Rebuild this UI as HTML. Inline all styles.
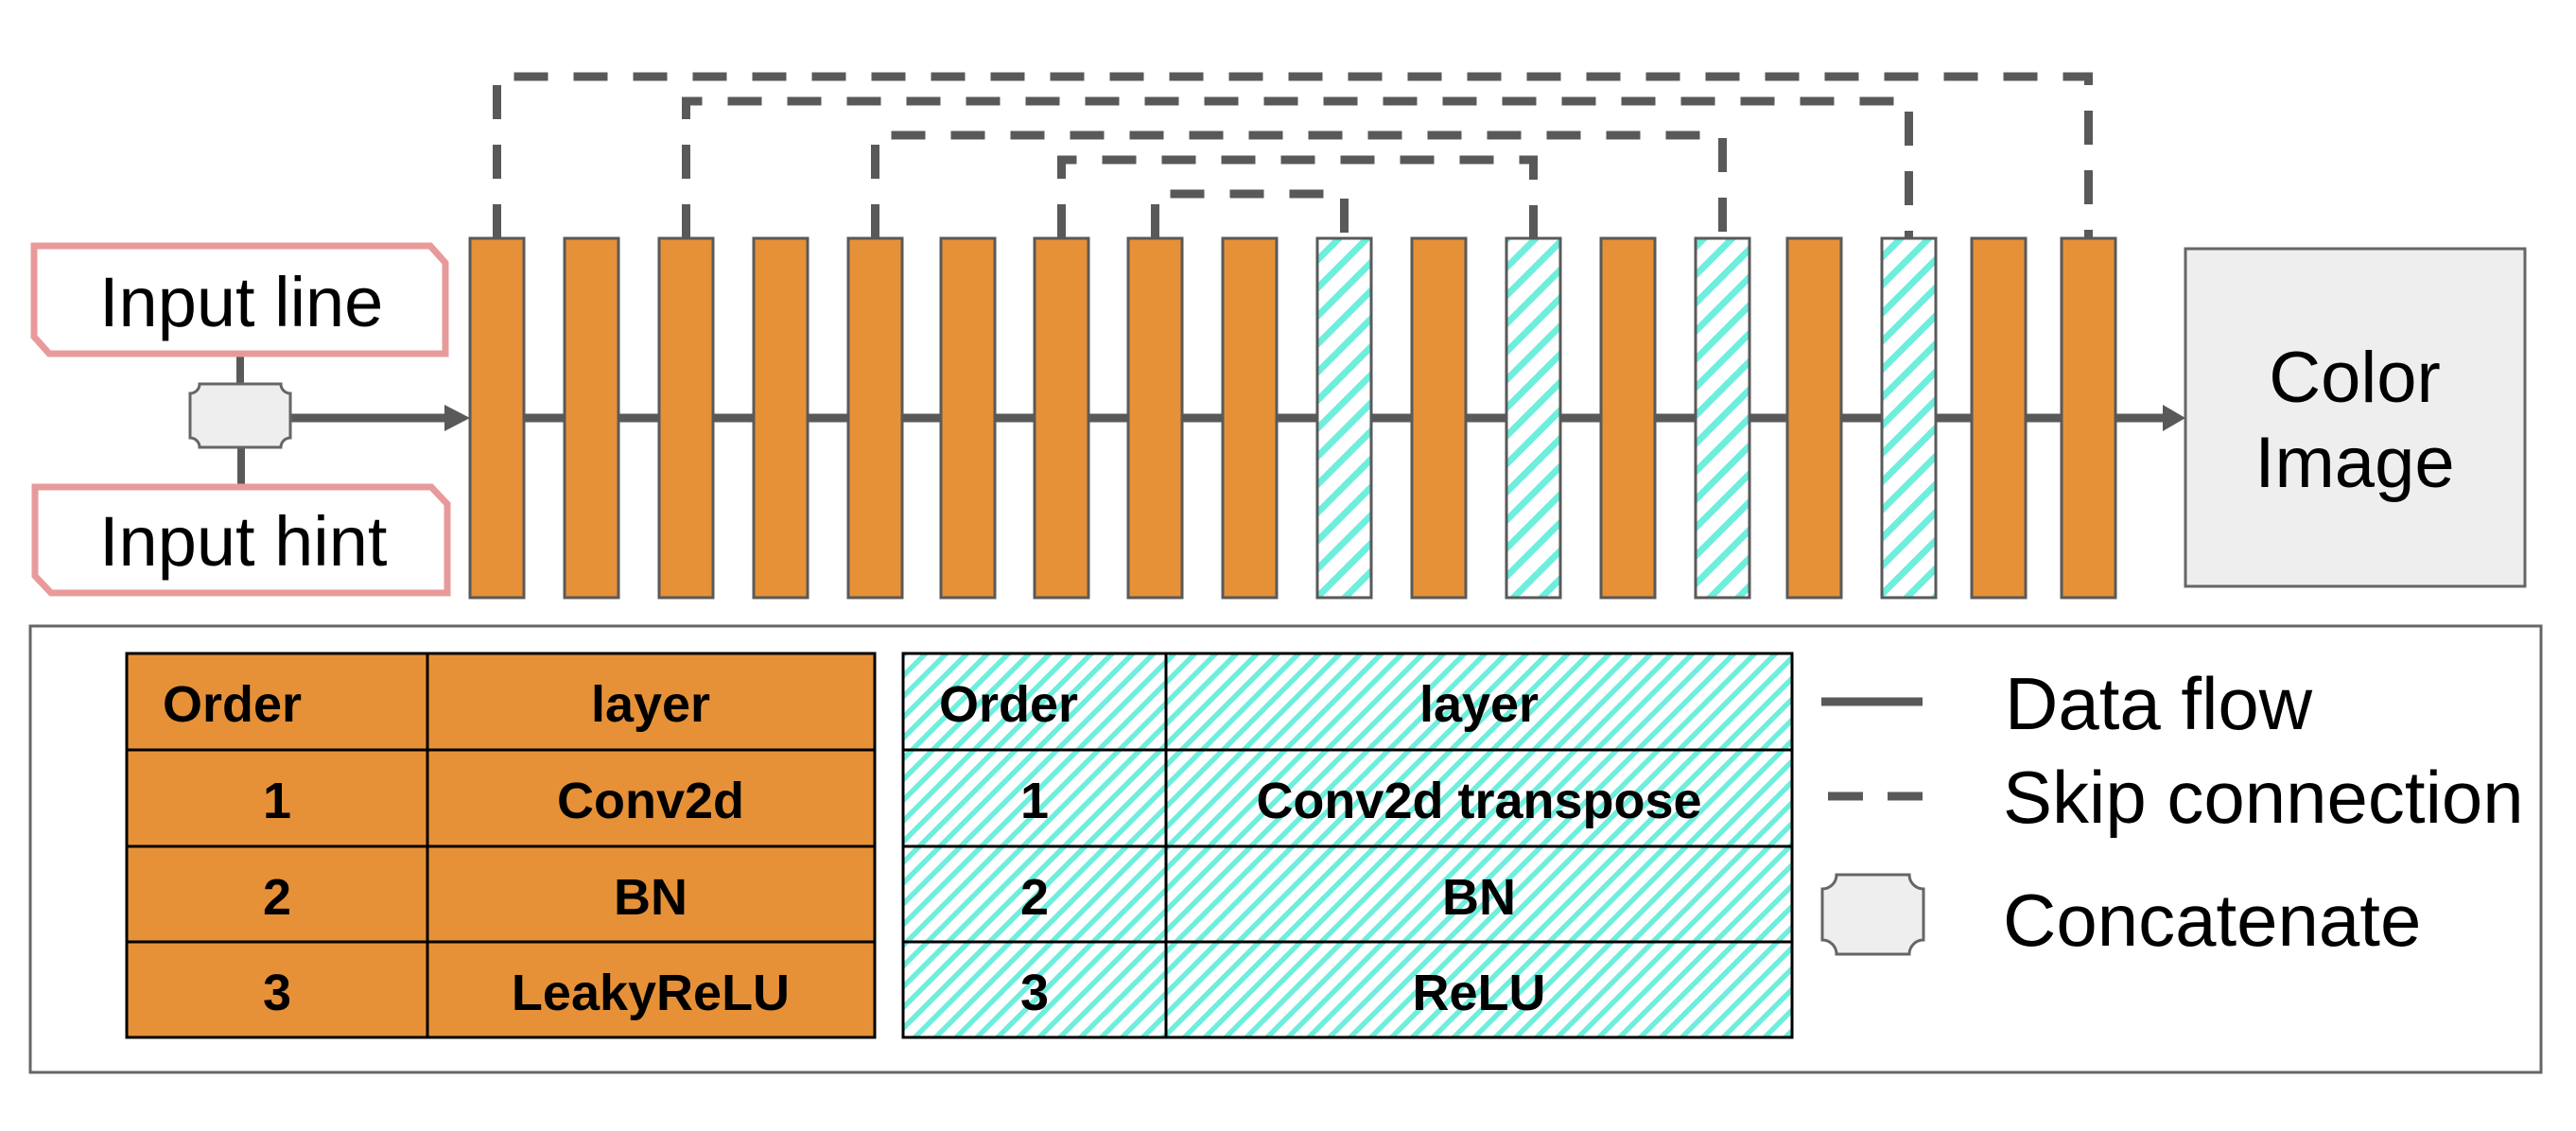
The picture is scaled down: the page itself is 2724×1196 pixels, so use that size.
<!DOCTYPE html>
<html><head><meta charset="utf-8"><style>
html,body{margin:0;padding:0;background:#fff;}
svg{display:block;}
text{font-family:"Liberation Sans",Arial,sans-serif;fill:#000;}
.b{font-weight:bold;font-size:54px;}
.r{font-size:78px;}
</style></head><body>
<svg width="2724" height="1196" viewBox="0 0 2724 1196" xmlns="http://www.w3.org/2000/svg">
<defs>
<pattern id="hb" width="21" height="21" patternUnits="userSpaceOnUse" patternTransform="rotate(45)">
<rect width="21" height="21" fill="#fff"/><rect width="7" height="21" fill="#6EEEDC"/></pattern>
<pattern id="ht" width="15.5" height="15.5" patternUnits="userSpaceOnUse" patternTransform="rotate(45)">
<rect width="15.5" height="15.5" fill="#fff"/><rect width="5.5" height="15.5" fill="#6EEEDC"/></pattern>
</defs>

<g fill="none" stroke="#595959" stroke-width="9" stroke-dasharray="36 27">
<path d="M525.5 252 V81 H2208.5 V252"/>
<path d="M725.5 252 V107 H2018.5 V252"/>
<path d="M925.5 252 V143 H1821.5 V252"/>
<path d="M1122.5 252 V169 H1621.5 V252"/>
<path d="M1221.5 252 V205 H1421.5 V252"/>
</g>

<line x1="554" y1="442" x2="2180" y2="442" stroke="#595959" stroke-width="9"/>
<line x1="307" y1="442" x2="472" y2="442" stroke="#595959" stroke-width="9"/>
<polygon points="470,428 497,442 470,456" fill="#595959"/>
<line x1="2237" y1="442" x2="2290" y2="442" stroke="#595959" stroke-width="9"/>
<polygon points="2287,428 2311,442 2287,456" fill="#595959"/>

<g stroke="#595959" stroke-width="3">
<rect x="497" y="252" width="57" height="380" fill="#E69138"/>
<rect x="597" y="252" width="57" height="380" fill="#E69138"/>
<rect x="697" y="252" width="57" height="380" fill="#E69138"/>
<rect x="797" y="252" width="57" height="380" fill="#E69138"/>
<rect x="897" y="252" width="57" height="380" fill="#E69138"/>
<rect x="995" y="252" width="57" height="380" fill="#E69138"/>
<rect x="1094" y="252" width="57" height="380" fill="#E69138"/>
<rect x="1193" y="252" width="57" height="380" fill="#E69138"/>
<rect x="1293" y="252" width="57" height="380" fill="#E69138"/>
<rect x="1393" y="252" width="57" height="380" fill="url(#hb)"/>
<rect x="1493" y="252" width="57" height="380" fill="#E69138"/>
<rect x="1593" y="252" width="57" height="380" fill="url(#hb)"/>
<rect x="1693" y="252" width="57" height="380" fill="#E69138"/>
<rect x="1793" y="252" width="57" height="380" fill="url(#hb)"/>
<rect x="1890" y="252" width="57" height="380" fill="#E69138"/>
<rect x="1990" y="252" width="57" height="380" fill="url(#hb)"/>
<rect x="2085" y="252" width="57" height="380" fill="#E69138"/>
<rect x="2180" y="252" width="57" height="380" fill="#E69138"/>
</g>

<rect x="2311" y="263" width="359" height="357" fill="#EEEEEE" stroke="#666" stroke-width="3"/>
<text x="2490" y="425" text-anchor="middle" font-size="76">Color</text>
<text x="2490" y="515" text-anchor="middle" font-size="76">Image</text>

<line x1="254" y1="377" x2="254" y2="410" stroke="#595959" stroke-width="8"/>
<line x1="255" y1="470" x2="255" y2="512" stroke="#595959" stroke-width="8"/>
<path d="M36 260 H455 L471 278 V374 H52 L36 356 Z" fill="#fff" stroke="#E89A9A" stroke-width="7"/>
<path d="M37 515 H456 L473 533 V627 H54 L37 609 Z" fill="#fff" stroke="#E89A9A" stroke-width="7"/>
<text x="105" y="345" font-size="74">Input line</text>
<text x="105" y="598" font-size="74">Input hint</text>
<path d="M211 406 H297 A10 10 0 0 0 307 416 V463 A10 10 0 0 0 297 473 H211 A10 10 0 0 0 201 463 V416 A10 10 0 0 0 211 406 Z" fill="#EEEEEE" stroke="#666" stroke-width="3"/>

<rect x="32" y="662" width="2655" height="472" fill="none" stroke="#666" stroke-width="3"/>

<g stroke="#000" stroke-width="3">
<rect x="134" y="691" width="791" height="406" fill="#E69138"/>
<line x1="452" y1="691" x2="452" y2="1097"/>
<line x1="134" y1="793" x2="925" y2="793"/>
<line x1="134" y1="895" x2="925" y2="895"/>
<line x1="134" y1="996" x2="925" y2="996"/>
</g>
<text class="b" x="172" y="763">Order</text>
<text class="b" x="688" y="763" text-anchor="middle">layer</text>
<text class="b" x="293" y="865" text-anchor="middle">1</text>
<text class="b" x="688" y="865" text-anchor="middle">Conv2d</text>
<text class="b" x="293" y="967" text-anchor="middle">2</text>
<text class="b" x="688" y="967" text-anchor="middle">BN</text>
<text class="b" x="293" y="1068" text-anchor="middle">3</text>
<text class="b" x="688" y="1068" text-anchor="middle">LeakyReLU</text>

<g stroke="#000" stroke-width="3">
<rect x="955" y="691" width="940" height="406" fill="url(#ht)"/>
<line x1="1233" y1="691" x2="1233" y2="1097"/>
<line x1="955" y1="793" x2="1895" y2="793"/>
<line x1="955" y1="895" x2="1895" y2="895"/>
<line x1="955" y1="996" x2="1895" y2="996"/>
</g>
<text class="b" x="993" y="763">Order</text>
<text class="b" x="1564" y="763" text-anchor="middle">layer</text>
<text class="b" x="1094" y="865" text-anchor="middle">1</text>
<text class="b" x="1564" y="865" text-anchor="middle">Conv2d transpose</text>
<text class="b" x="1094" y="967" text-anchor="middle">2</text>
<text class="b" x="1564" y="967" text-anchor="middle">BN</text>
<text class="b" x="1094" y="1068" text-anchor="middle">3</text>
<text class="b" x="1564" y="1068" text-anchor="middle">ReLU</text>

<line x1="1926" y1="742" x2="2033" y2="742" stroke="#595959" stroke-width="9"/>
<line x1="1933" y1="842" x2="1970" y2="842" stroke="#595959" stroke-width="9"/>
<line x1="1996" y1="842" x2="2033" y2="842" stroke="#595959" stroke-width="9"/>
<path d="M1942 925 H2019 A15 15 0 0 0 2034 940 V994 A15 15 0 0 0 2019 1009 H1942 A15 15 0 0 0 1927 994 V940 A15 15 0 0 0 1942 925 Z" fill="#EEEEEE" stroke="#666" stroke-width="3"/>
<text class="r" x="2120" y="771">Data flow</text>
<text class="r" x="2118" y="870">Skip connection</text>
<text class="r" x="2118" y="1000">Concatenate</text>
</svg>
</body></html>
